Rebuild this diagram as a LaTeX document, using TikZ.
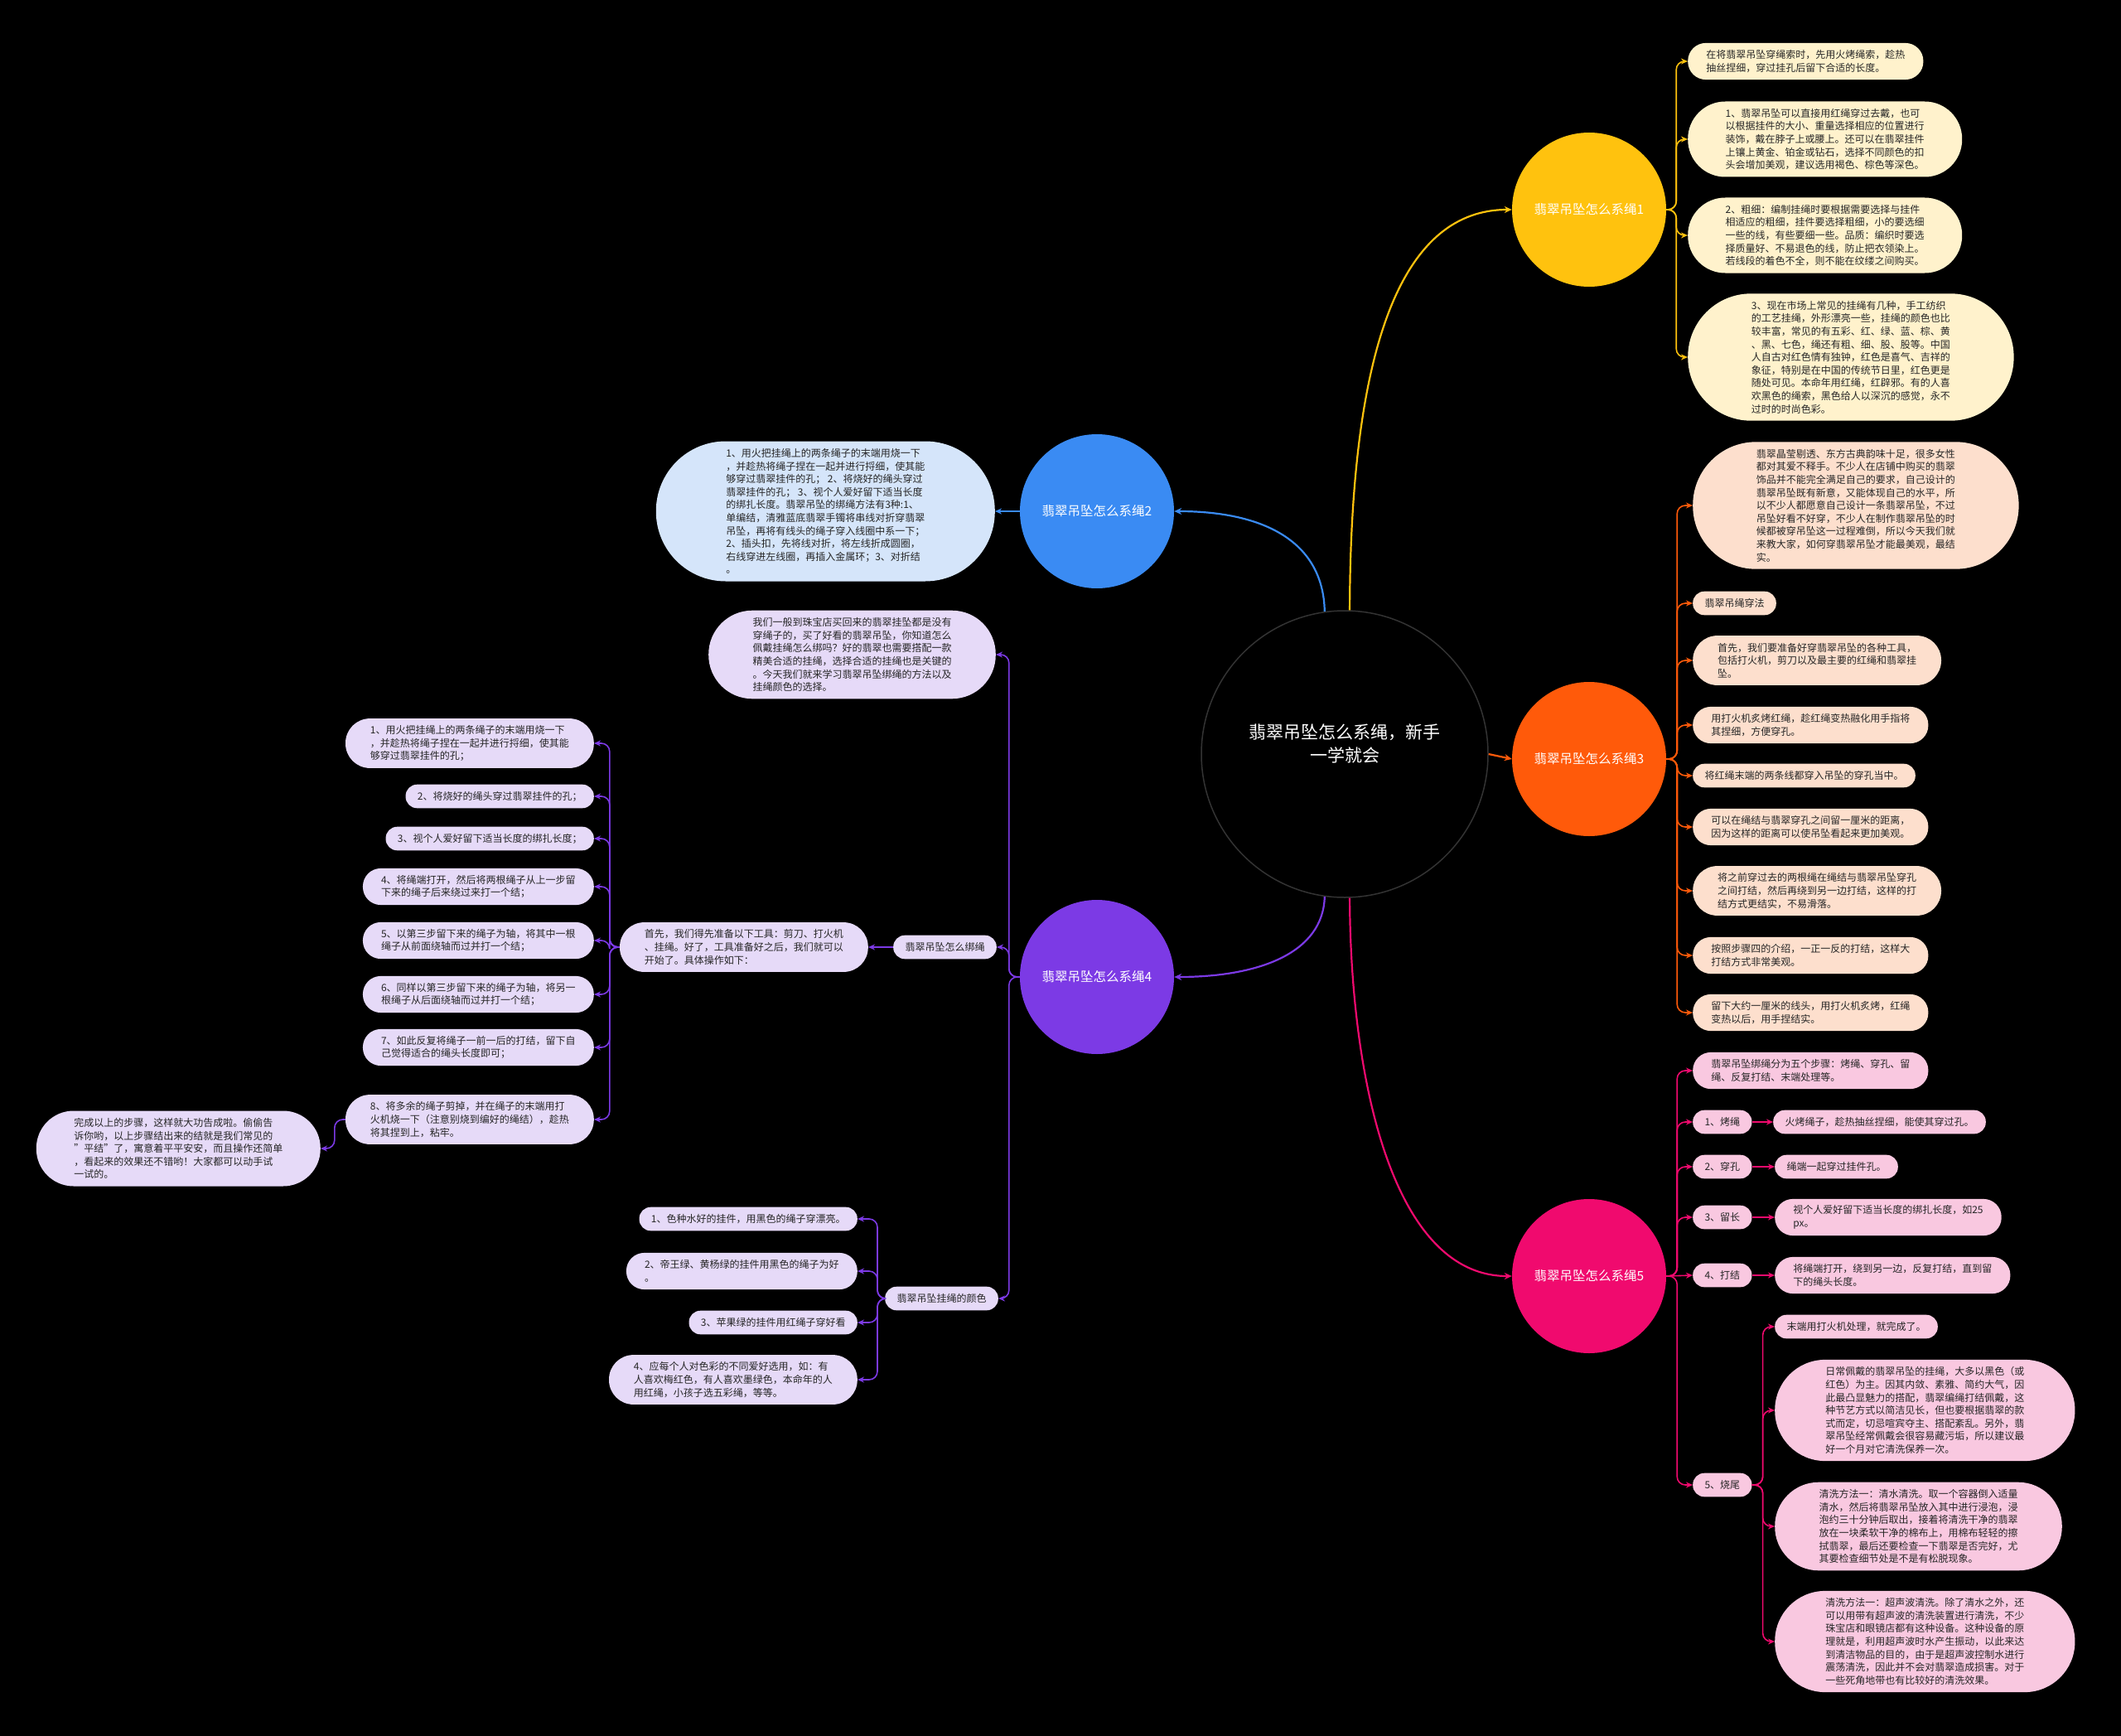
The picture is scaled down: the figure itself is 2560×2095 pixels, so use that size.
\documentclass[tikz,border=0pt]{standalone}
\usepackage{fontspec}
\setmainfont{Noto Sans CJK SC}
\usetikzlibrary{arrows.meta}
\definecolor{yel}{HTML}{FFC20E}
\definecolor{blu}{HTML}{3A8BF3}
\definecolor{org}{HTML}{FF5A0A}
\definecolor{pur}{HTML}{7C3AE5}
\definecolor{pnk}{HTML}{F00A6E}
\definecolor{yelL}{HTML}{FFF2CC}
\definecolor{bluL}{HTML}{D5E5FA}
\definecolor{orgL}{HTML}{FDDFCD}
\definecolor{purL}{HTML}{E6DAF8}
\definecolor{pnkL}{HTML}{F9C8E0}
\begin{document}
\begin{tikzpicture}[x=1pt,y=-1pt,
  br/.style={circle,minimum size=186pt,inner sep=0pt,text=white,font=\fontsize{15.5}{18}\selectfont},
  leaf/.style={rectangle,/utils/exec={\pgfmathsetmacro\hr{7.8*#1+6.5}},minimum height=2*\hr,inner xsep=\hr,inner ysep=2pt,rounded corners=\hr-0.4,align=left,text=black!85,font=\fontsize{12}{15.6}\selectfont},
  lk/.style={line width=1.6pt,rounded corners=10pt,-{Stealth[length=8pt,width=7pt]}},
  main/.style={line width=2.2pt,-{Stealth[length=9pt,width=8pt]}}]
\useasboundingbox (0,0) rectangle (2560,2095);
\fill[black] (0,0) rectangle (2560,2095);
\node[circle,draw=black!80!white,line width=1.5pt,minimum size=346pt] (ctr) at (1623,910) {};
\node[align=center,text=white,font=\fontsize{21}{28}\selectfont] (ctrtxt) at (1623,897) {翡翠吊坠怎么系绳，新手\\一学就会};
\node[br,fill=yel] (b1) at (1918,253) {翡翠吊坠怎么系绳1};
\node[br,fill=blu] (b2) at (1324,617) {翡翠吊坠怎么系绳2};
\node[br,fill=org] (b3) at (1918,916) {翡翠吊坠怎么系绳3};
\node[br,fill=pur] (b4) at (1324,1179) {翡翠吊坠怎么系绳4};
\node[br,fill=pnk] (b5) at (1918,1540) {翡翠吊坠怎么系绳5};
\draw[main,yel] (ctr.88) .. controls (1630,450) and (1680,253) .. (b1.west);
\draw[main,blu] (ctr.98) .. controls (1597,650) and (1520,617) .. (b2.east);
\draw[main,org] (ctr.east) -- (b3.west);
\draw[main,pur] (ctr.262) .. controls (1597,1150) and (1520,1179) .. (b4.east);
\draw[main,pnk] (ctr.272) .. controls (1630,1300) and (1680,1540) .. (b5.west);
\begin{scope}[every node/.append style={fill=yelL,anchor=west}]
\node[leaf=2] (y1) at (2037,74) {在将翡翠吊坠穿绳索时，先用火烤绳索，趁热\\抽丝捏细，穿过挂孔后留下合适的长度。};
\node[leaf=5] (y2) at (2037,168) {1、翡翠吊坠可以直接用红绳穿过去戴，也可\\以根据挂件的大小、重量选择相应的位置进行\\装饰，戴在脖子上或腰上。还可以在翡翠挂件\\上镶上黄金、铂金或钻石，选择不同颜色的扣\\头会增加美观，建议选用褐色、棕色等深色。};
\node[leaf=5] (y3) at (2037,284) {2、粗细：编制挂绳时要根据需要选择与挂件\\相适应的粗细，挂件要选择粗细，小的要选细\\一些的线，有些要细一些。品质：编织时要选\\择质量好、不易退色的线，防止把衣领染上。\\若线段的着色不全，则不能在纹缕之间购买。};
\node[leaf=9] (y4) at (2037,431) {3、现在市场上常见的挂绳有几种，手工纺织\\的工艺挂绳，外形漂亮一些，挂绳的颜色也比\\较丰富，常见的有五彩、红、绿、蓝、棕、黄\\、黑、七色，绳还有粗、细、股、股等。中国\\人自古对红色情有独钟，红色是喜气、吉祥的\\象征，特别是在中国的传统节日里，红色更是\\随处可见。本命年用红绳，红辟邪。有的人喜\\欢黑色的绳索，黑色给人以深沉的感觉，永不\\过时的时尚色彩。};
\end{scope}
\foreach \c in {y1,y2,y3,y4} \draw[lk,yel] (b1.east) -- ++(12,0) |- (\c.west);
\begin{scope}[every node/.append style={fill=orgL,anchor=west}]
\node[leaf=9] (o1) at (2043,610) {翡翠晶莹剔透、东方古典韵味十足，很多女性\\都对其爱不释手。不少人在店铺中购买的翡翠\\饰品并不能完全满足自己的要求，自己设计的\\翡翠吊坠既有新意，又能体现自己的水平，所\\以不少人都愿意自己设计一条翡翠吊坠，不过\\吊坠好看不好穿，不少人在制作翡翠吊坠的时\\候都被穿吊坠这一过程难倒，所以今天我们就\\来教大家，如何穿翡翠吊坠才能最美观，最结\\实。};
\node[leaf=1] (o2) at (2043,728) {翡翠吊绳穿法};
\node[leaf=3] (o3) at (2043,797) {首先，我们要准备好穿翡翠吊坠的各种工具，\\包括打火机，剪刀以及最主要的红绳和翡翠挂\\坠。};
\node[leaf=2] (o4) at (2043,875) {用打火机炙烤红绳，趁红绳变热融化用手指将\\其捏细，方便穿孔。};
\node[leaf=1] (o5) at (2043,936) {将红绳末端的两条线都穿入吊坠的穿孔当中。};
\node[leaf=2] (o6) at (2043,998) {可以在绳结与翡翠穿孔之间留一厘米的距离，\\因为这样的距离可以使吊坠看起来更加美观。};
\node[leaf=3] (o7) at (2043,1075) {将之前穿过去的两根绳在绳结与翡翠吊坠穿孔\\之间打结，然后再绕到另一边打结，这样的打\\结方式更结实，不易滑落。};
\node[leaf=2] (o8) at (2043,1153) {按照步骤四的介绍，一正一反的打结，这样大\\打结方式非常美观。};
\node[leaf=2] (o9) at (2043,1222) {留下大约一厘米的线头，用打火机炙烤，红绳\\变热以后，用手捏结实。};
\end{scope}
\foreach \c in {o1,o2,o3,o4,o5,o6,o7,o8,o9} \draw[lk,org] (b3.east) -- ++(13,0) |- (\c.west);
\begin{scope}[every node/.append style={fill=pnkL,anchor=west}]
\node[leaf=2] (p1) at (2043,1292) {翡翠吊坠绑绳分为五个步骤：烤绳、穿孔、留\\绳、反复打结、末端处理等。};
\node[leaf=1] (p2) at (2043,1354) {1、烤绳};
\node[leaf=1] (p3) at (2043,1408) {2、穿孔};
\node[leaf=1] (p4) at (2043,1469) {3、留长};
\node[leaf=1] (p5) at (2043,1539) {4、打结};
\node[leaf=1] (p6) at (2043,1792) {5、烧尾};
\node[leaf=1] (p2a) at (2140,1354) {火烤绳子，趁热抽丝捏细，能使其穿过孔。};
\node[leaf=1] (p3a) at (2142,1408) {绳端一起穿过挂件孔。};
\node[leaf=2] (p4a) at (2142,1469) {视个人爱好留下适当长度的绑扎长度，如25\\px。};
\node[leaf=2] (p5a) at (2142,1539) {将绳端打开，绕到另一边，反复打结，直到留\\下的绳头长度。};
\node[leaf=1] (p6a) at (2142,1601) {末端用打火机处理，就完成了。};
\node[leaf=7] (p6b) at (2142,1702) {日常佩戴的翡翠吊坠的挂绳，大多以黑色（或\\红色）为主。因其内敛、素雅、简约大气，因\\此最凸显魅力的搭配，翡翠编绳打结佩戴，这\\种节艺方式以简洁见长，但也要根据翡翠的款\\式而定，切忌喧宾夺主、搭配紊乱。另外，翡\\翠吊坠经常佩戴会很容易藏污垢，所以建议最\\好一个月对它清洗保养一次。};
\node[leaf=6] (p6c) at (2142,1842) {清洗方法一：清水清洗。取一个容器倒入适量\\清水，然后将翡翠吊坠放入其中进行浸泡，浸\\泡约三十分钟后取出，接着将清洗干净的翡翠\\放在一块柔软干净的棉布上，用棉布轻轻的擦\\拭翡翠，最后还要检查一下翡翠是否完好，尤\\其要检查细节处是不是有松脱现象。};
\node[leaf=7] (p6d) at (2142,1981) {清洗方法一：超声波清洗。除了清水之外，还\\可以用带有超声波的清洗装置进行清洗，不少\\珠宝店和眼镜店都有这种设备。这种设备的原\\理就是，利用超声波时水产生振动，以此来达\\到清洁物品的目的，由于是超声波控制水进行\\震荡清洗，因此并不会对翡翠造成损害。对于\\一些死角地带也有比较好的清洗效果。};
\end{scope}
\foreach \c in {p1,p2,p3,p4,p6} \draw[lk,pnk] (b5.east) -- ++(13,0) |- (\c.west);
\draw[lk,pnk] (b5.east) -- (p5.west);
\foreach \a/\b in {p2/p2a,p3/p3a,p4/p4a,p5/p5a} \draw[lk,pnk] (\a.east) -- (\b.west);
\foreach \c in {p6a,p6b,p6c,p6d} \draw[lk,pnk] (p6.east) -- ++(13,0) |- (\c.west);
\node[leaf=10,fill=bluL,anchor=east] (bl1) at (1201,617) {1、用火把挂绳上的两条绳子的末端用烧一下\\，并趁热将绳子捏在一起并进行捋细，使其能\\够穿过翡翠挂件的孔； 2、将烧好的绳头穿过\\翡翠挂件的孔； 3、视个人爱好留下适当长度\\的绑扎长度。翡翠吊坠的绑绳方法有3种:1、\\单编结，清雅蓝底翡翠手镯将串线对折穿翡翠\\吊坠，再将有线头的绳子穿入线圈中系一下；\\2、插头扣，先将线对折，将左线折成圆圈，\\右线穿进左线圈，再插入金属环；3、对折结\\。};
\draw[lk,blu] (b2.west) -- (bl1.east);
\begin{scope}[every node/.append style={fill=purL,anchor=east}]
\node[leaf=6] (u1) at (1202,790) {我们一般到珠宝店买回来的翡翠挂坠都是没有\\穿绳子的，买了好看的翡翠吊坠，你知道怎么\\佩戴挂绳怎么绑吗？好的翡翠也需要搭配一款\\精美合适的挂绳，选择合适的挂绳也是关键的\\。今天我们就来学习翡翠吊坠绑绳的方法以及\\挂绳颜色的选择。};
\node[leaf=1] (u2) at (1203,1143) {翡翠吊坠怎么绑绳};
\node[leaf=3] (u2a) at (1048,1143) {首先，我们得先准备以下工具：剪刀、打火机\\、挂绳。好了，工具准备好之后，我们就可以\\开始了。具体操作如下：};
\node[leaf=3] (c1) at (717,897) {1、用火把挂绳上的两条绳子的末端用烧一下\\，并趁热将绳子捏在一起并进行捋细，使其能\\够穿过翡翠挂件的孔；};
\node[leaf=1] (c2) at (717,961) {2、将烧好的绳头穿过翡翠挂件的孔；};
\node[leaf=1] (c3) at (717,1012) {3、视个人爱好留下适当长度的绑扎长度；};
\node[leaf=2] (c4) at (717,1070) {4、将绳端打开，然后将两根绳子从上一步留\\下来的绳子后来绕过来打一个结；};
\node[leaf=2] (c5) at (717,1135) {5、以第三步留下来的绳子为轴，将其中一根\\绳子从前面绕轴而过并打一个结；};
\node[leaf=2] (c6) at (717,1200) {6、同样以第三步留下来的绳子为轴，将另一\\根绳子从后面绕轴而过并打一个结；};
\node[leaf=2] (c7) at (717,1264) {7、如此反复将绳子一前一后的打结，留下自\\己觉得适合的绳头长度即可；};
\node[leaf=3] (c8) at (717,1351) {8、将多余的绳子剪掉，并在绳子的末端用打\\火机烧一下（注意别烧到编好的绳结），趁热\\将其捏到上，粘牢。};
\node[leaf=5] (c8a) at (387,1386) {完成以上的步骤，这样就大功告成啦。偷偷告\\诉你哟，以上步骤结出来的结就是我们常见的\\"平结"了，寓意着平平安安，而且操作还简单\\，看起来的效果还不错哟！大家都可以动手试\\一试的。};
\node[leaf=1] (u3) at (1205,1567) {翡翠吊坠挂绳的颜色};
\node[leaf=1] (d1) at (1035,1471) {1、色种水好的挂件，用黑色的绳子穿漂亮。};
\node[leaf=2] (d2) at (1035,1534) {2、帝王绿、黄杨绿的挂件用黑色的绳子为好\\。};
\node[leaf=1] (d3) at (1035,1596) {3、苹果绿的挂件用红绳子穿好看};
\node[leaf=3] (d4) at (1035,1665) {4、应每个人对色彩的不同爱好选用，如：有\\人喜欢梅红色，有人喜欢墨绿色，本命年的人\\用红绳，小孩子选五彩绳，等等。};
\end{scope}
\foreach \c in {u1,u2,u3} \draw[lk,pur] (b4.west) -- ++(-13,0) |- (\c.east);
\draw[lk,pur] (u2.west) -- (u2a.east);
\foreach \c in {c1,c2,c3,c4,c5,c6,c7,c8} \draw[lk,pur] (u2a.west) -- ++(-12,0) |- (\c.east);
\draw[lk,pur] (c8.west) -- ++(-13,0) |- (c8a.east);
\foreach \c in {d1,d2,d3,d4} \draw[lk,pur] (u3.west) -- ++(-9,0) |- (\c.east);
\end{tikzpicture}
\end{document}
